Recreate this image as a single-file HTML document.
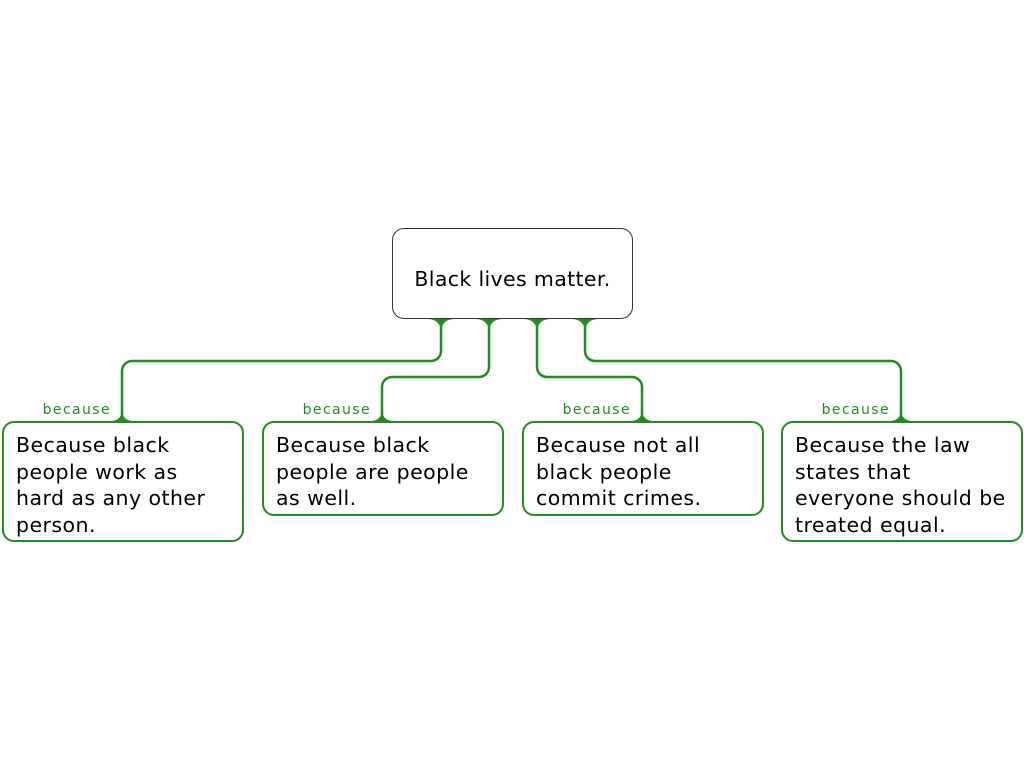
<!DOCTYPE html>
<html><head><style>
body{margin:0;width:1024px;height:768px;background:#fff;position:relative;overflow:hidden;font-family:"DejaVu Sans",sans-serif}
.b{position:absolute;box-sizing:border-box;border:2.5px solid #228B22;border-radius:12px;background:#fff;padding:9px 12px;font-size:20.5px;line-height:26.5px;color:#000;letter-spacing:0.45px;white-space:nowrap}
.t{position:absolute;left:392px;top:228px;width:241px;height:91px;box-sizing:border-box;border:1px solid #333;border-radius:12px;font-size:20.5px;text-align:center;line-height:91px;padding-top:5px;letter-spacing:0.35px;white-space:nowrap}
.l{position:absolute;font-size:14px;color:#228B22;width:100px;text-align:right;top:402px;letter-spacing:1.4px}
</style></head><body>
<svg width="1024" height="768" style="position:absolute;left:0;top:0" fill="none" stroke="#228B22" stroke-width="2.5">
<path d="M441 319 V351 a10 10 0 0 1 -10 10 H132 a10 10 0 0 0 -10 10 V421"/>
<path d="M489 319 V367 a10 10 0 0 1 -10 10 H392 a10 10 0 0 0 -10 10 V421"/>
<path d="M537 319 V367 a10 10 0 0 0 10 10 H632 a10 10 0 0 1 10 10 V421"/>
<path d="M585 319 V351 a10 10 0 0 0 10 10 H891 a10 10 0 0 1 10 10 V421"/>
<g fill="#228B22" stroke="none">
<path d="M427 319 Q441 319 441 333 Q441 319 455 319Z"/>
<path d="M475 319 Q489 319 489 333 Q489 319 503 319Z"/>
<path d="M523 319 Q537 319 537 333 Q537 319 551 319Z"/>
<path d="M571 319 Q585 319 585 333 Q585 319 599 319Z"/>
<path d="M110 421 Q122 421 122 409 Q122 421 134 421Z"/>
<path d="M370 421 Q382 421 382 409 Q382 421 394 421Z"/>
<path d="M630 421 Q642 421 642 409 Q642 421 654 421Z"/>
<path d="M889 421 Q901 421 901 409 Q901 421 913 421Z"/>
</g>
</svg>
<div class="t">Black lives matter.</div>
<div class="l" style="left:11px">because</div>
<div class="l" style="left:271px">because</div>
<div class="l" style="left:531px">because</div>
<div class="l" style="left:790px">because</div>
<div class="b" style="left:2px;top:421px;width:242px;height:121px">Because black<br>people work as<br>hard as any other<br>person.</div>
<div class="b" style="left:262px;top:421px;width:242px;height:95px">Because black<br>people are people<br>as well.</div>
<div class="b" style="left:522px;top:421px;width:242px;height:95px">Because not all<br>black people<br>commit crimes.</div>
<div class="b" style="left:781px;top:421px;width:242px;height:121px">Because the law<br>states that<br>everyone should be<br>treated equal.</div>
</body></html>
